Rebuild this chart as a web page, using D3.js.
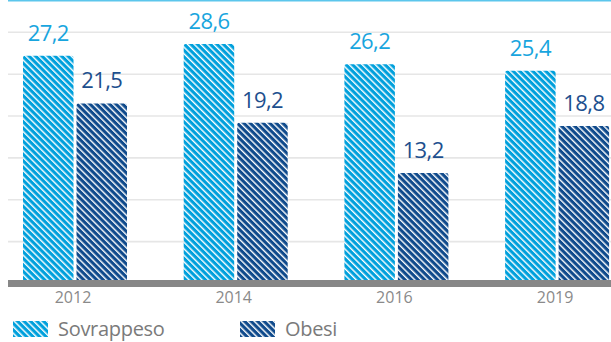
<!DOCTYPE html>
<html>
<head>
<meta charset="utf-8">
<script src="https://cdn.jsdelivr.net/npm/d3@7"></script>
<style>
  html, body { margin: 0; padding: 0; background: #fff; }
  svg { display: block; font-family: "Open Sans", "Noto Sans", sans-serif; }
</style>
</head>
<body>
<svg id="chart" width="611" height="342"></svg>
<script>
// Years on the x axis
const years = ["2012", "2014", "2016", "2019"];
// Series names (legend order)
const seriesNames = ["Sovrappeso", "Obesi"];
// Percent values per year
const sovrappeso = [27.2, 28.6, 26.2, 25.4];
const obesi = [21.5, 19.2, 13.2, 18.8];
// Horizontal gridline values
const gridTicks = [5, 10, 15, 20, 25, 30];

const seriesValues = { Sovrappeso: sovrappeso, Obesi: obesi };
const colors = { Sovrappeso: "#00a0dc", Obesi: "#0f4a8c" };
const labelColors = { Sovrappeso: "#18a5de", Obesi: "#1d4f8e" };
const patternIds = { Sovrappeso: "stripe-sov", Obesi: "stripe-obe" };

const W = 611, H = 342;
const plotLeft = 8;
const svg = d3.select("#chart");

// Scales
const y = d3.scaleLinear().domain([0, 33.8]).range([283.5, 0.5]);
const x = d3.scaleBand().domain(years).range([-5.35, 637.45]).padding(0);
const xSub = d3.scaleBand().domain(seriesNames)
  .range([28.35, x.bandwidth() - 28.35]).paddingInner(0.056).paddingOuter(0);

// Diagonal stripe patterns
const defs = svg.append("defs");
seriesNames.forEach(name => {
  const p = defs.append("pattern")
    .attr("id", patternIds[name])
    .attr("patternUnits", "userSpaceOnUse")
    .attr("width", 4.6).attr("height", 4.6)
    .attr("patternTransform", "rotate(-45)");
  p.append("rect").attr("width", 4.6).attr("height", 4.6).attr("fill", colors[name]);
  p.append("rect").attr("x", 0).attr("width", 1.4).attr("height", 4.6).attr("fill", "#ffffff");
});

// Gridlines
svg.append("g").selectAll("line")
  .data(gridTicks)
  .join("line")
  .attr("x1", plotLeft).attr("x2", W)
  .attr("y1", d => y(d)).attr("y2", d => y(d))
  .attr("stroke", "#e6e6e6").attr("stroke-width", 1.6);

// Top rule
svg.append("line")
  .attr("x1", plotLeft).attr("x2", W)
  .attr("y1", y(33.8)).attr("y2", y(33.8))
  .attr("stroke", "#5cc6ec").attr("stroke-width", 2);

// Bars
const groups = svg.append("g").selectAll("g")
  .data(years)
  .join("g")
  .attr("transform", d => `translate(${x(d)},0)`);

groups.selectAll("rect")
  .data((d, i) => seriesNames.map(name => ({ name, value: seriesValues[name][i] })))
  .join("rect")
  .attr("x", d => xSub(d.name))
  .attr("width", xSub.bandwidth())
  .attr("y", d => y(d.value))
  .attr("height", d => y(0) - y(d.value) + 2)
  .attr("rx", 2)
  .attr("fill", d => `url(#${patternIds[d.name]})`);

// Value labels
groups.selectAll("text.val")
  .data((d, i) => seriesNames.map(name => ({ name, value: seriesValues[name][i] })))
  .join("text")
  .attr("class", "val")
  .attr("x", d => xSub(d.name) + xSub.bandwidth() / 2)
  .attr("y", d => y(d.value) - 15)
  .attr("text-anchor", "middle")
  .attr("font-size", 22)
  .attr("letter-spacing", -0.6)
  .attr("fill", d => labelColors[d.name])
  .text(d => d3.format(".1f")(d.value).replace(".", ","));

// Baseline band
svg.append("rect")
  .attr("x", plotLeft).attr("width", W - plotLeft)
  .attr("y", 280).attr("height", 7)
  .attr("fill", "#878787");

// X axis labels
const xAxis = d3.axisBottom(x).tickSize(0).tickPadding(0);
const gx = svg.append("g").attr("transform", "translate(0,292)").call(xAxis);
gx.select(".domain").remove();
gx.selectAll("text")
  .attr("font-family", "\"Open Sans\", sans-serif")
  .attr("font-size", 16)
  .attr("fill", "#8a8a8a")
  .attr("dx", -2);

// Legend
const legendX = [13, 240];
const legend = svg.append("g").selectAll("g")
  .data(seriesNames)
  .join("g")
  .attr("transform", (d, i) => `translate(${legendX[i]},321)`);
legend.append("rect")
  .attr("width", 35).attr("height", 16)
  .attr("fill", d => `url(#${patternIds[d]})`);
legend.append("text")
  .attr("x", 45).attr("y", 14.5)
  .attr("font-size", 20)
  .attr("letter-spacing", -0.3)
  .attr("fill", "#7a7a7a")
  .text(d => d);
</script>
</body>
</html>
